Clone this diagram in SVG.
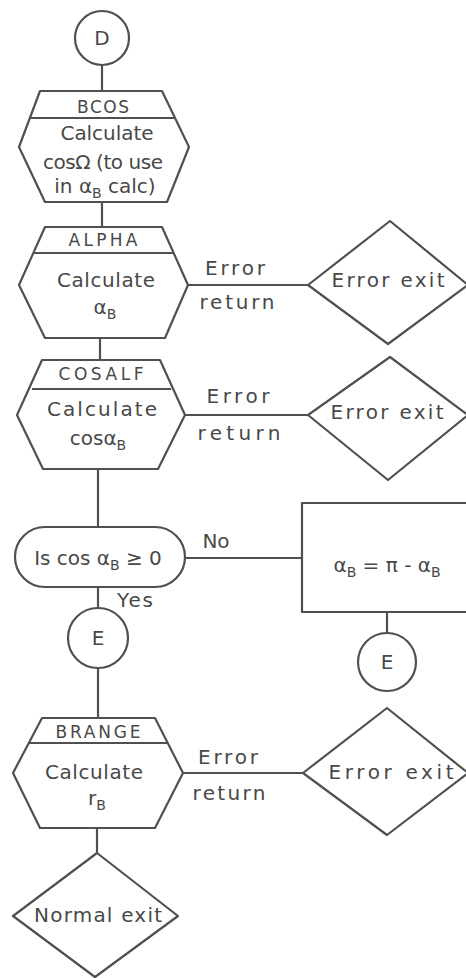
<svg xmlns="http://www.w3.org/2000/svg" width="466" height="978" viewBox="0 0 466 978">
<style>
.s{fill:none;stroke:#505050;stroke-width:2.2;stroke-linejoin:round}
.t{font-family:"DejaVu Sans","Liberation Sans",sans-serif;font-size:20px;fill:#484848;text-anchor:middle}
.h{font-size:17px}
.sub{font-size:14px}
</style>
<rect width="466" height="978" fill="#fff"/>
<g id="connectors" class="s">
<line x1="102" y1="65" x2="102" y2="91"/>
<line x1="102" y1="202" x2="102" y2="227"/>
<line x1="100" y1="338" x2="100" y2="360"/>
<line x1="98" y1="469" x2="98" y2="527"/>
<line x1="98" y1="587" x2="98" y2="608"/>
<line x1="98" y1="668" x2="98" y2="718"/>
<line x1="97" y1="828" x2="97" y2="853"/>
<line x1="188" y1="285" x2="308" y2="285"/>
<line x1="185" y1="415" x2="308" y2="415"/>
<line x1="185" y1="558" x2="302" y2="558"/>
<line x1="387" y1="612" x2="387" y2="633"/>
<line x1="183" y1="773" x2="303" y2="773"/>
</g>
<g id="labels" class="t">
<text x="235" y="275" textLength="60" lengthAdjust="spacing">Error</text>
<text x="237" y="309" textLength="75" lengthAdjust="spacing">return</text>
<text x="238" y="403" textLength="63" lengthAdjust="spacing">Error</text>
<text x="239" y="440" textLength="83" lengthAdjust="spacing">return</text>
<text x="216" y="548" textLength="27" lengthAdjust="spacing">No</text>
<text x="135" y="607" textLength="36" lengthAdjust="spacing">Yes</text>
<text x="228" y="764" textLength="60" lengthAdjust="spacing">Error</text>
<text x="229" y="800" textLength="73" lengthAdjust="spacing">return</text>
</g>
<g id="D">
<circle class="s" cx="102" cy="38" r="27"/>
<text class="t" x="102" y="45">D</text>
</g>
<g id="BCOS">
<path class="s" d="M40 91 H162 L189 147 L167 202 H45 L19 147 Z"/>
<line class="s" x1="30" y1="118" x2="174" y2="118"/>
<text class="t h" x="103" y="113" textLength="52" lengthAdjust="spacing">BCOS</text>
<text class="t" x="107" y="140" textLength="93" lengthAdjust="spacing">Calculate</text>
<text class="t" x="103" y="169" textLength="120" lengthAdjust="spacing">cosΩ (to use</text>
<text class="t" x="105" y="193">in α<tspan class="sub" dy="5">B</tspan><tspan dy="-5"> calc)</tspan></text>
</g>
<g id="ALPHA">
<path class="s" d="M45 227 H162 L188 285 L165 338 H45 L19 285 Z"/>
<line class="s" x1="34" y1="253" x2="174" y2="253"/>
<text class="t h" x="103" y="246" textLength="69" lengthAdjust="spacing">ALPHA</text>
<text class="t" x="106" y="287" textLength="98" lengthAdjust="spacing">Calculate</text>
<text class="t" x="105" y="314">α<tspan class="sub" dy="5">B</tspan></text>
</g>
<g id="err1">
<path class="s" d="M308 285 L390 221 L468 285 L388 344 Z"/>
<text class="t" x="388" y="287" textLength="113" lengthAdjust="spacing">Error exit</text>
</g>
<g id="COSALF">
<path class="s" d="M42 360 H160 L185 415 L158 469 H43 L17 415 Z"/>
<line class="s" x1="32" y1="389" x2="171" y2="389"/>
<text class="t h" x="101" y="380" textLength="85" lengthAdjust="spacing">COSALF</text>
<text class="t" x="102" y="416" textLength="110" lengthAdjust="spacing">Calculate</text>
<text class="t" x="98" y="445">cosα<tspan class="sub" dy="5">B</tspan></text>
</g>
<g id="err2">
<path class="s" d="M308 415 L390 357 L468 415 L388 480 Z"/>
<text class="t" x="387" y="419" textLength="113" lengthAdjust="spacing">Error exit</text>
</g>
<g id="decision">
<rect class="s" x="15" y="527" width="170" height="60" rx="30"/>
<text class="t" x="98" y="565">Is cos α<tspan class="sub" dy="5">B</tspan><tspan dy="-5"> ≥ 0</tspan></text>
</g>
<g id="assign">
<rect class="s" x="302" y="503" width="170" height="109"/>
<text class="t" x="387" y="572">α<tspan class="sub" dy="5">B</tspan><tspan dy="-5"> = π - α</tspan><tspan class="sub" dy="5">B</tspan></text>
</g>
<g id="E1">
<circle class="s" cx="98" cy="638" r="30"/>
<text class="t" x="98" y="645">E</text>
</g>
<g id="E2">
<circle class="s" cx="387" cy="662" r="29"/>
<text class="t" x="387" y="669">E</text>
</g>
<g id="BRANGE">
<path class="s" d="M42 718 H155 L183 773 L155 828 H40 L13 773 Z"/>
<line class="s" x1="28" y1="743" x2="167" y2="743"/>
<text class="t h" x="98" y="738" textLength="85" lengthAdjust="spacing">BRANGE</text>
<text class="t" x="94" y="779" textLength="98" lengthAdjust="spacing">Calculate</text>
<text class="t" x="97" y="805">r<tspan class="sub" dy="5">B</tspan></text>
</g>
<g id="err3">
<path class="s" d="M303 773 L387 708 L468 773 L387 835 Z"/>
<text class="t" x="391" y="779" textLength="125" lengthAdjust="spacing">Error exit</text>
</g>
<g id="normal">
<path class="s" d="M97 853 L178 916 L95 977 L13 916 Z"/>
<text class="t" x="98" y="922" textLength="128" lengthAdjust="spacing">Normal exit</text>
</g>
</svg>
